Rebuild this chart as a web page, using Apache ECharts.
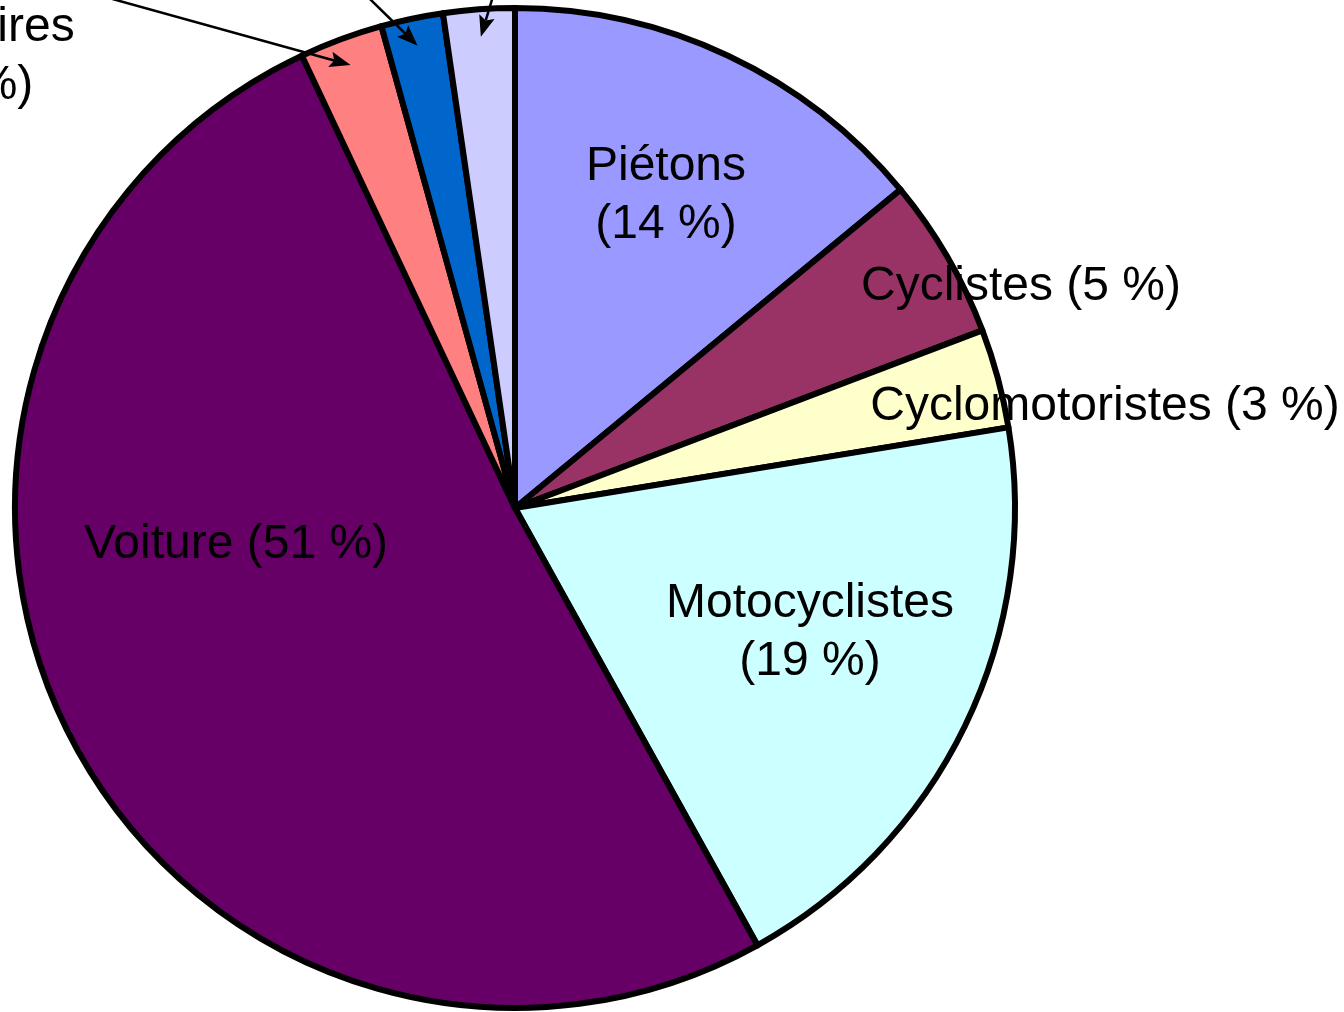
<!DOCTYPE html>
<html>
<head>
<meta charset="utf-8">
<script src="https://cdn.jsdelivr.net/npm/echarts@6/dist/echarts.min.js"></script>
<style>
  html, body { margin: 0; padding: 0; background: #fff; }
  #chart { width: 1344px; height: 1012px; }
</style>
</head>
<body>
<div id="chart"></div>
<script>
// usagers tués, part par mode de déplacement
var names = ['Piétons', 'Cyclistes', 'Cyclomotoristes', 'Motocyclistes', 'Voiture', 'Utilitaires', 'Poids lourds', 'Autres'];
var shares = [14, 5.2, 3.2, 19.5, 51, 2.7, 2.0, 2.3];
var shownPct = [14, 5, 3, 19, 51, 3, 2, 2];
var colors = ['#9999FF', '#993366', '#FFFFCC', '#CCFFFF', '#660066', '#FF8080', '#0066CC', '#CCCCFF'];

var CX = 515, CY = 508, R = 500;
var twoLines = [true, false, false, true, false, true, false, false];
// label centres (px)
var labelAt = [[666, 196], [1021, 287], [1105, 407], [810, 633], [236, 545], [-24, 57], [300, -70], [520, -60]];
// leader line start for the small slices
var leaderFrom = {5: [80, -10], 6: [330, -40], 7: [500, -27]};

var total = shares.reduce(function (a, b) { return a + b; }, 0);
function tip(i, f) {
  var before = 0;
  for (var k = 0; k < i; k++) before += shares[k];
  var a = (before + shares[i] / 2) / total * 2 * Math.PI;
  return [CX + f * R * Math.sin(a), CY - f * R * Math.cos(a)];
}

var data = names.map(function (n, i) {
  return { name: n, value: shares[i], itemStyle: { color: colors[i] } };
});

// leader lines with arrow heads, drawn over the slices
var arrows = [];
Object.keys(leaderFrom).forEach(function (k) {
  var s = leaderFrom[k], t = tip(+k, 0.945);
  var dx = t[0] - s[0], dy = t[1] - s[1];
  var len = Math.sqrt(dx * dx + dy * dy);
  dx /= len; dy /= len;
  var bx = t[0] - 21 * dx, by = t[1] - 21 * dy;
  arrows.push({
    type: 'line', silent: true, z: 100,
    shape: { x1: s[0], y1: s[1], x2: bx + 4 * dx, y2: by + 4 * dy },
    style: { stroke: '#000', lineWidth: 2.5 }
  });
  arrows.push({
    type: 'polygon', silent: true, z: 101,
    shape: { points: [t, [bx - 8 * dy, by + 8 * dx], [bx + 4 * dx, by + 4 * dy], [bx + 8 * dy, by - 8 * dx]] },
    style: { fill: '#000' }
  });
});

var myChart = echarts.init(document.getElementById('chart'));
var option = {
  animation: false,
  backgroundColor: '#fff',
  graphic: arrows,
  series: [{
    type: 'pie',
    center: [CX, CY],
    radius: R,
    startAngle: 90,
    clockwise: true,
    avoidLabelOverlap: false,
    silent: true,
    data: data,
    itemStyle: { borderColor: '#000', borderWidth: 6 },
    label: {
      show: true,
      position: 'outside',
      fontFamily: 'Liberation Sans, Arial, sans-serif',
      fontSize: 48,
      lineHeight: 58,
      color: '#000',
      formatter: function (p) {
        var i = p.dataIndex;
        return names[i] + (twoLines[i] ? '\n' : ' ') + '(' + shownPct[i] + ' %)';
      }
    },
    labelLine: { show: false },
    labelLayout: function (p) {
      var i = p.dataIndex;
      return { x: labelAt[i][0], y: labelAt[i][1], align: 'center', verticalAlign: 'middle' };
    }
  }]
};
option && myChart.setOption(option);
</script>
</body>
</html>
